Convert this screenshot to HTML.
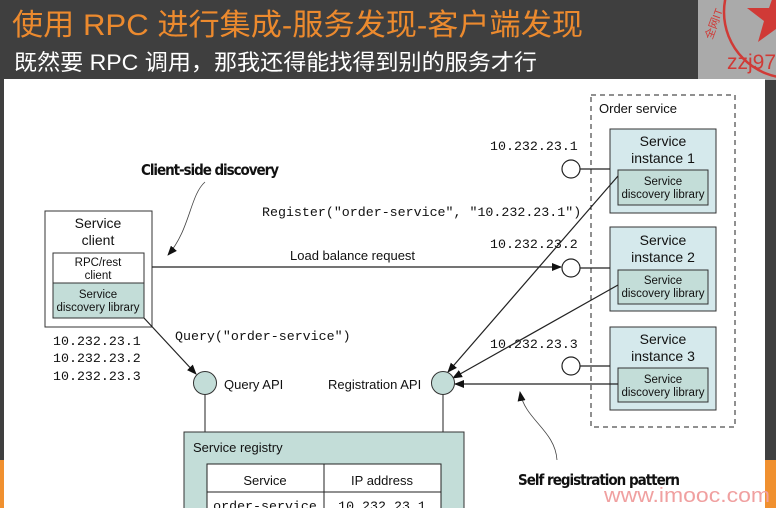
<!DOCTYPE html>
<html><head><meta charset="utf-8"><style>
html,body{margin:0;padding:0;width:776px;height:508px;overflow:hidden;background:#3f3f3f}
svg{display:block}
</style></head><body>
<svg width="776" height="508" viewBox="0 0 776 508" xmlns="http://www.w3.org/2000/svg">
<defs>
<marker id="a" markerWidth="10" markerHeight="8" refX="9" refY="4" orient="auto" markerUnits="userSpaceOnUse"><path d="M0,0 L10,4 L0,8 z" fill="#111"/></marker>
<clipPath id="st"><rect x="698" y="0" width="78" height="80"/></clipPath>
</defs>
<rect x="0" y="0" width="776" height="508" fill="#3f3f3f"/>
<rect x="0" y="460" width="776" height="48" fill="#f0902f"/>
<rect x="698" y="0" width="78" height="80" fill="#aaaaaa"/>
<g clip-path="url(#st)">
<circle cx="790" cy="12" r="66" fill="none" stroke="#d03a36" stroke-width="2.5"/>
<path d="M776,-12 L783,8 L805,8 L788,21 L794,42 L776,29 L758,42 L764,21 L747,8 L769,8 z" fill="#d03a36"/>
<text x="727" y="69" font-family="Liberation Sans, sans-serif" font-size="21" fill="#d03a36">zzj97</text>
<text x="712" y="40" font-family="Liberation Sans, 'Noto Sans CJK SC', sans-serif" font-size="11" fill="#d03a36" transform="rotate(-70 712 40)">全网IT</text>
</g>
<text x="12" y="35" font-family="Liberation Sans, 'Noto Sans CJK SC', sans-serif" font-size="30" fill="#ec8a2e" textLength="571" lengthAdjust="spacingAndGlyphs">使用 RPC 进行集成-服务发现-客户端发现</text>
<text x="14" y="70" font-family="Liberation Sans, 'Noto Sans CJK SC', sans-serif" font-size="22" fill="#ffffff" textLength="523" lengthAdjust="spacingAndGlyphs">既然要 RPC 调用，那我还得能找得到别的服务才行</text>
<rect x="4" y="79" width="761" height="429" fill="#ffffff"/>

<g font-family="Liberation Sans, sans-serif" fill="#111">
<rect x="591" y="95" width="144" height="332" fill="none" stroke="#222" stroke-dasharray="5,4"/>
<text x="599" y="113" font-size="13">Order service</text>
<g stroke="#333" stroke-width="1">
<rect x="610" y="129" width="106" height="84" fill="#d5e9ec"/>
<rect x="618" y="170" width="90" height="35" fill="#c3ddd8"/>
<rect x="610" y="227" width="106" height="84" fill="#d5e9ec"/>
<rect x="618" y="270" width="90" height="34" fill="#c3ddd8"/>
<rect x="610" y="327" width="106" height="83" fill="#d5e9ec"/>
<rect x="618" y="368" width="90" height="34" fill="#c3ddd8"/>
</g>
<g font-size="14" text-anchor="middle">
<text x="663" y="146">Service</text><text x="663" y="163">instance 1</text>
<text x="663" y="245">Service</text><text x="663" y="262">instance 2</text>
<text x="663" y="344">Service</text><text x="663" y="361">instance 3</text>
</g>
<g font-size="11.5" text-anchor="middle">
<text x="663" y="185">Service</text><text x="663" y="198">discovery library</text>
<text x="663" y="284">Service</text><text x="663" y="297">discovery library</text>
<text x="663" y="383">Service</text><text x="663" y="396">discovery library</text>
</g>
<g stroke="#222" stroke-width="1.2" fill="#fff">
<line x1="580" y1="169" x2="610" y2="169"/><line x1="580" y1="268" x2="610" y2="268"/><line x1="580" y1="366" x2="610" y2="366"/>
<circle cx="571" cy="169" r="9"/><circle cx="571" cy="268" r="9"/><circle cx="571" cy="366" r="9"/>
</g>
<g font-family="Liberation Mono, monospace" font-size="13.3">
<text x="490" y="150">10.232.23.1</text>
<text x="490" y="248">10.232.23.2</text>
<text x="490" y="348">10.232.23.3</text>
<text x="262" y="216">Register("order-service", "10.232.23.1")</text>
<text x="175" y="340">Query("order-service")</text>
<text x="53" y="345">10.232.23.1</text>
<text x="53" y="362">10.232.23.2</text>
<text x="53" y="380">10.232.23.3</text>
</g>
<rect x="45" y="211" width="107" height="116" fill="#fff" stroke="#333"/>
<rect x="53" y="253" width="91" height="30" fill="#fff" stroke="#333"/>
<rect x="53" y="283" width="91" height="35" fill="#c3ddd8" stroke="#333"/>
<g text-anchor="middle">
<text x="98" y="228" font-size="14">Service</text><text x="98" y="245" font-size="14">client</text>
<text x="98" y="266" font-size="11.5">RPC/rest</text><text x="98" y="279" font-size="11.5">client</text>
<text x="98" y="298" font-size="11.5">Service</text><text x="98" y="311" font-size="11.5">discovery library</text>
</g>
<text x="141" y="175" font-size="15" font-weight="bold" font-family="DejaVu Sans Condensed, Liberation Sans, sans-serif" textLength="138">Client-side discovery</text>
<path d="M205,182 C190,195 190,230 168,255" fill="none" stroke="#444" stroke-width="0.8" marker-end="url(#a)"/>
<text x="290" y="260" font-size="13">Load balance request</text>
<line x1="152" y1="267" x2="561" y2="267" stroke="#222" stroke-width="1.2" marker-end="url(#a)"/>
<line x1="144" y1="318" x2="196" y2="374" stroke="#222" stroke-width="1.2" marker-end="url(#a)"/>
<line x1="618" y1="176" x2="448" y2="372" stroke="#222" stroke-width="1.2" marker-end="url(#a)"/>
<line x1="618" y1="285" x2="453" y2="378" stroke="#222" stroke-width="1.2" marker-end="url(#a)"/>
<line x1="618" y1="384" x2="455" y2="384" stroke="#222" stroke-width="1.2" marker-end="url(#a)"/>
<line x1="205" y1="394" x2="205" y2="432" stroke="#222"/>
<line x1="443" y1="394" x2="443" y2="432" stroke="#222"/>
<circle cx="205" cy="383" r="11.5" fill="#c3ddd8" stroke="#333"/>
<circle cx="443" cy="383" r="11.5" fill="#c3ddd8" stroke="#333"/>
<text x="224" y="389" font-size="13">Query API</text>
<text x="328" y="389" font-size="13">Registration API</text>
<rect x="184" y="432" width="280" height="90" fill="#c3ddd8" stroke="#333"/>
<text x="193" y="452" font-size="13">Service registry</text>
<rect x="207" y="464" width="234" height="60" fill="#fff" stroke="#222"/>
<line x1="207" y1="492" x2="441" y2="492" stroke="#222"/>
<line x1="324" y1="464" x2="324" y2="508" stroke="#222"/>
<text x="265" y="485" font-size="13" text-anchor="middle">Service</text>
<text x="382" y="485" font-size="13" text-anchor="middle">IP address</text>
<text x="265" y="510" font-size="13.3" text-anchor="middle" font-family="Liberation Mono, monospace">order-service</text>
<text x="382" y="510" font-size="13.3" text-anchor="middle" font-family="Liberation Mono, monospace">10.232.23.1</text>
<path d="M557,460 C555,430 525,420 520,392" fill="none" stroke="#444" stroke-width="0.8" marker-end="url(#a)"/>
<text x="518" y="485" font-size="15" font-weight="bold" font-family="DejaVu Sans Condensed, Liberation Sans, sans-serif" textLength="162">Self registration pattern</text>
</g>
<text x="604" y="502" font-family="Liberation Sans, sans-serif" font-size="20" fill="#f0a0a0" textLength="166" lengthAdjust="spacingAndGlyphs">www.imooc.com</text>
</svg>
</body></html>
